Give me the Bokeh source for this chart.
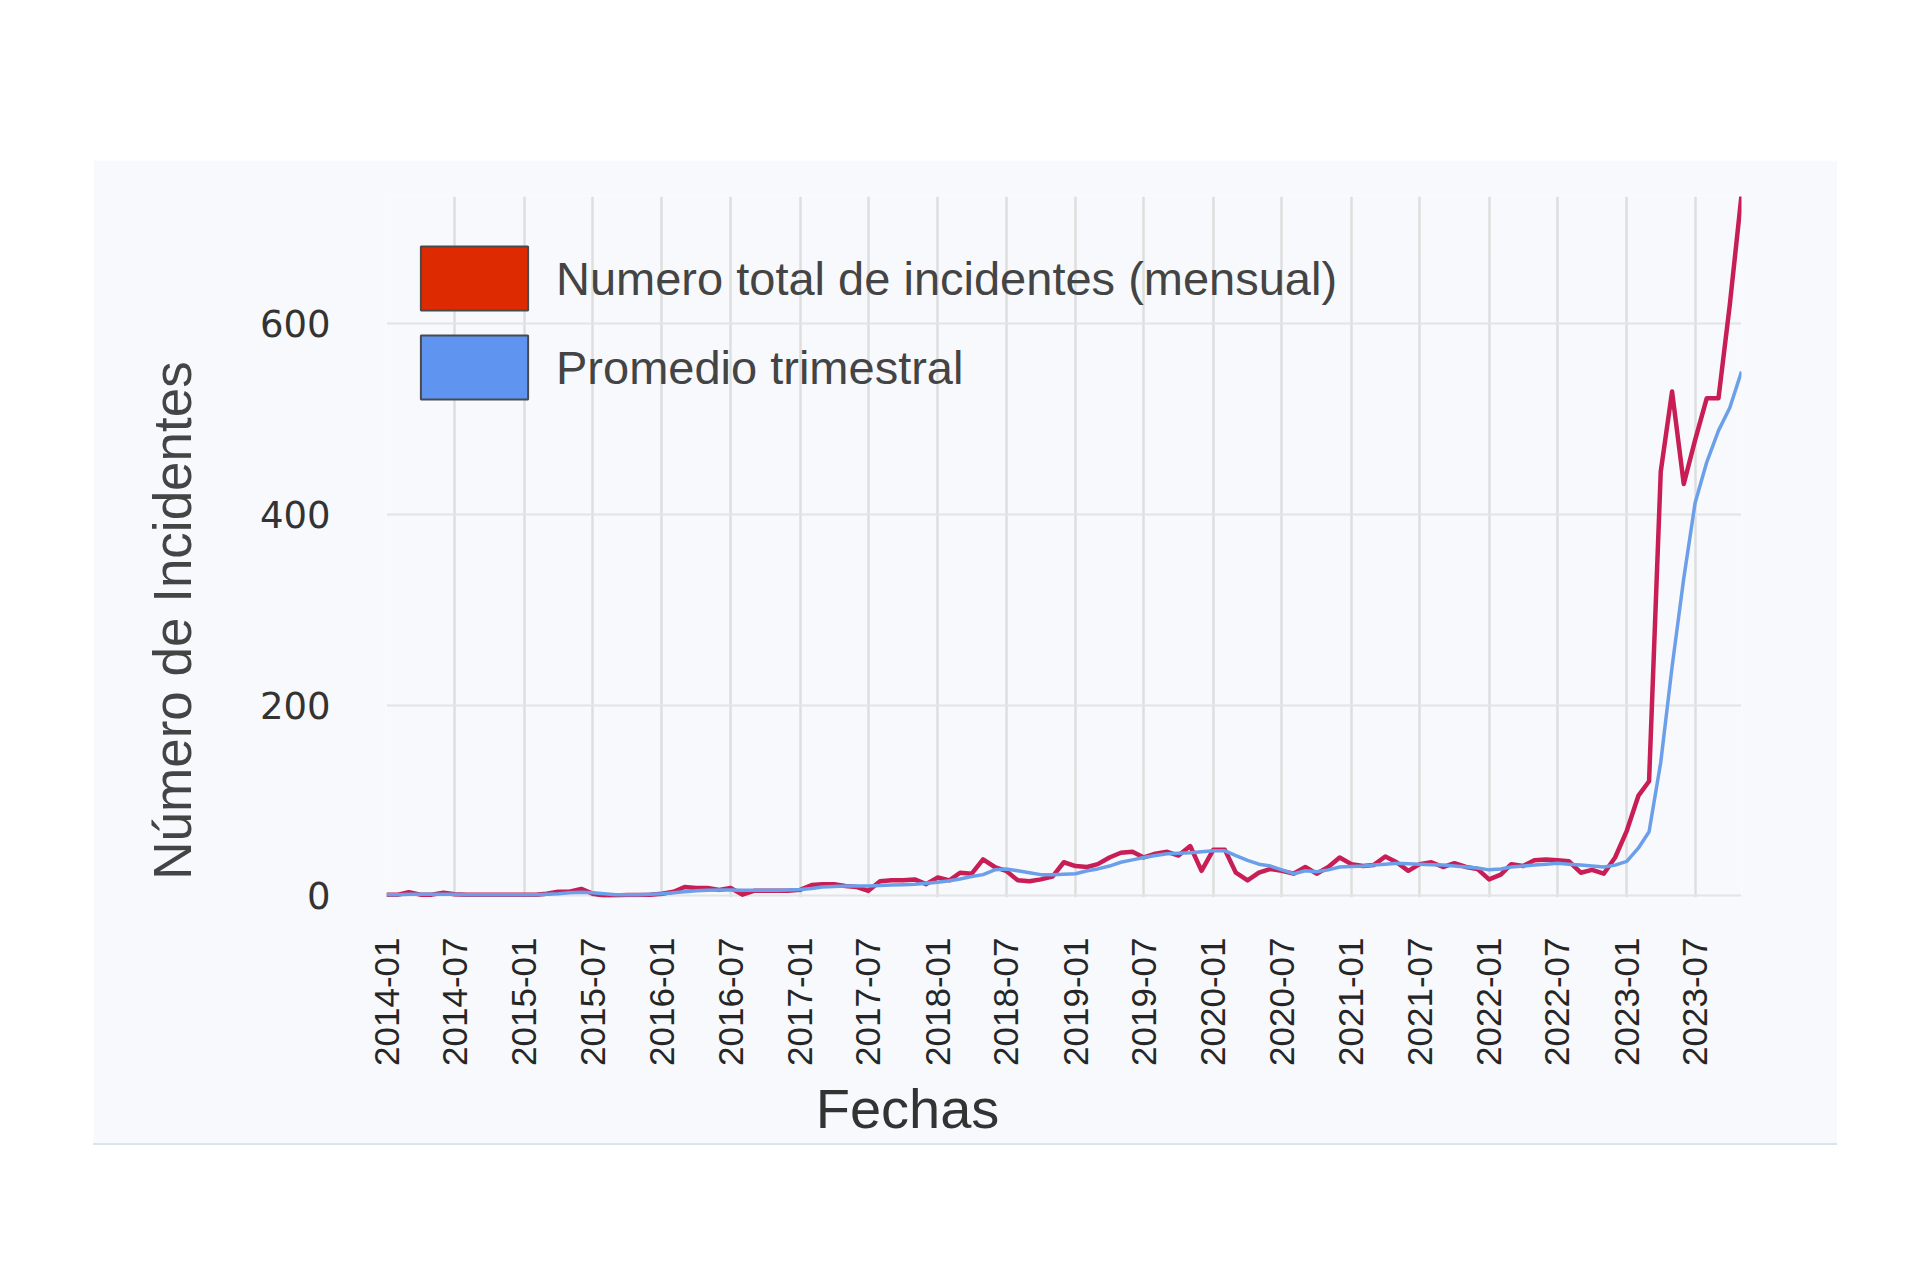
import math
import pandas as pd
from bokeh.plotting import figure
from bokeh.models import (Range1d, FixedTicker, DatetimeTickFormatter, Legend, LegendItem,
                          Spacer, ColumnDataSource, LinearAxis, CustomJSTickFormatter)
from bokeh.layouts import column, row
from bokeh.embed import file_html
from bokeh.resources import INLINE

# ---------------- data ----------------
start_month = "2014-01"
end_month = "2023-11"
tick_labels = ["2014-01", "2014-07", "2015-01", "2015-07", "2016-01", "2016-07",
               "2017-01", "2017-07", "2018-01", "2018-07", "2019-01", "2019-07",
               "2020-01", "2020-07", "2021-01", "2021-07", "2022-01", "2022-07",
               "2023-01", "2023-07"]
y_ticks = [0, 200, 400, 600]
series_names = ["Numero total de incidentes (mensual)", "Promedio trimestral"]
x_title = "Fechas"
y_title = "Número de Incidentes"

incidentes_mensual = [
    1, 1, 3.5, 1, 1, 3, 1.5, 1, 1, 1,
    1, 1, 1, 1, 2, 4, 4, 7, 2, 0,
    0, 0.5, 0.5, 1, 2, 4, 9, 8, 8, 6,
    8, 1, 5, 5, 5, 5, 6, 11, 12, 12,
    10, 9, 5, 15, 16, 16, 17, 12, 19, 16,
    24, 23, 38, 30, 26, 16, 15, 17, 20, 35,
    31, 30, 33, 40, 45, 46, 40, 44, 46, 42,
    52, 26, 48, 48, 24, 16, 24, 28, 26, 23,
    30, 23, 30, 40, 33, 31, 32, 41, 35, 26,
    33, 35, 30, 34, 30, 28, 17, 22, 33, 31,
    37, 38, 37, 36, 24, 27, 23, 40, 68, 105,
    120, 445, 529, 432, 478, 522, 522, 620, 735,
]
promedio_trimestral = [
    1, 1, 1.5, 1.5, 1.5, 1.5, 1.5, 1, 1, 1,
    1, 1, 1, 1, 1.5, 2, 3, 3.5, 3, 2,
    1, 1, 1, 1.5, 2, 3, 4, 5, 5.5, 6,
    6, 5.5, 5.5, 5.5, 5.5, 6, 6.5, 7.5, 9, 9.5,
    10, 10, 10, 10.5, 11, 11.5, 12, 13, 14, 15.5,
    17.5, 20, 22, 27, 28, 26, 24, 22, 22, 22.5,
    23, 26, 28, 31, 35, 37.5, 40, 42, 44, 44.5,
    45, 46, 47, 47, 42, 37, 33, 31, 27, 23,
    26, 25, 27, 30, 30.5, 31, 32, 33, 34, 33.5,
    33, 32.5, 32, 31, 30, 29, 27, 28, 30, 31,
    32, 33, 34, 33, 32, 31, 30, 32, 36, 50,
    67, 140, 240, 333, 412, 455, 488, 512, 550,
]

months = pd.date_range(start=start_month + "-01", end=end_month + "-01", freq="MS")
src = ColumnDataSource(dict(fecha=months, mensual=incidentes_mensual,
                            trimestral=promedio_trimestral))

CARD = "#f7f9fc"
FRAME_W, FRAME_H = 1355, 701

start_ms = months[0].value / 1e6
end_ms = months[-1].value / 1e6
tick_ms = [pd.Timestamp(t + "-01").value / 1e6 for t in tick_labels]

p = figure(width=1744, height=983, x_axis_type="datetime",
           output_backend="svg", toolbar_location=None,
           x_range=Range1d(start_ms, end_ms), y_range=Range1d(-2, 733.7),
           min_border_left=293, min_border_right=96, min_border_top=36,
           min_border_bottom=246,
           background_fill_color=CARD, border_fill_color=CARD,
           outline_line_color=None)

p.extra_x_ranges = {"xlab": Range1d(0, FRAME_W)}
p.extra_y_ranges = {"ylab": Range1d(0, FRAME_H)}

p.line("fecha", "mensual", source=src, line_color="#c81e55", line_width=4.5,
       line_join="round")
p.line("fecha", "trimestral", source=src, line_color="#6c9fe9", line_width=3.5,
       line_join="round")

fmt = "%Y-%m"
xa = p.xaxis[0]
xa.ticker = FixedTicker(ticks=tick_ms)
xa.formatter = DatetimeTickFormatter(microseconds=fmt, milliseconds=fmt, seconds=fmt,
                                     minsec=fmt, minutes=fmt, hourmin=fmt, hours=fmt,
                                     days=fmt, months=fmt, years=fmt)
xa.major_label_orientation = math.pi / 2
xa.major_label_text_font = "Liberation Sans"
xa.major_label_text_font_size = "35px"
xa.major_label_text_color = "#262626"
xa.major_label_standoff = 40
xa.major_tick_out = 0
xa.major_tick_in = 0
xa.axis_line_color = None
xa.major_tick_line_color = None
xa.minor_tick_line_color = None

# x title axis
xt = LinearAxis(x_range_name="xlab", ticker=FixedTicker(ticks=[521]),
                formatter=CustomJSTickFormatter(code="return %r;" % x_title))
xt.major_label_text_font = "Liberation Sans"
xt.major_label_text_font_size = "56px"
xt.major_label_text_color = "#333333"
xt.major_label_standoff = 8
xt.major_tick_out = 0
xt.major_tick_in = 0
xt.axis_line_color = None
xt.major_tick_line_color = None
xt.minor_tick_line_color = None
p.add_layout(xt, "below")

ya = p.yaxis[0]
ya.ticker = FixedTicker(ticks=y_ticks)
ya.major_label_text_font = "DejaVu Sans"
ya.major_label_text_font_size = "37px"
ya.major_label_text_color = "#333333"
ya.major_label_standoff = 56
ya.major_tick_out = 0
ya.major_tick_in = 0
ya.axis_line_color = None
ya.major_tick_line_color = None
ya.minor_tick_line_color = None

# y title axis
yt = LinearAxis(y_range_name="ylab", ticker=FixedTicker(ticks=[277]),
                formatter=CustomJSTickFormatter(code="return %r;" % y_title))
yt.major_label_orientation = "parallel"
yt.major_label_text_font = "Liberation Sans"
yt.major_label_text_font_size = "53px"
yt.major_label_text_color = "#444444"
yt.major_label_standoff = 55
yt.major_tick_out = 0
yt.major_tick_in = 0
yt.axis_line_color = None
yt.major_tick_line_color = None
yt.minor_tick_line_color = None
p.add_layout(yt, "left")

p.xgrid.grid_line_color = "#dedede"
p.xgrid.grid_line_width = 2.5
p.ygrid.grid_line_color = "#e4e4e4"
p.ygrid.grid_line_width = 2

# legend with box swatches
nan = float("nan")
r_red = p.quad(left=[nan], right=[nan], top=[nan], bottom=[nan],
               fill_color="#dd2a00", line_color="#4a4a4a", line_width=2)
r_blue = p.quad(left=[nan], right=[nan], top=[nan], bottom=[nan],
                fill_color="#5f95f0", line_color="#4a4a4a", line_width=2)
legend = Legend(items=[LegendItem(label=series_names[0], renderers=[r_red]),
                       LegendItem(label=series_names[1], renderers=[r_blue])],
                location=(21, 490), padding=0, margin=0, spacing=9,
                glyph_width=134, glyph_height=80, label_standoff=15,
                label_text_font="Liberation Sans", label_text_font_size="47px",
                label_text_color="#444444", border_line_color=None,
                background_fill_alpha=0)
p.add_layout(legend)

bottom_line = Spacer(width=1744, height=2, styles={"background-color": "#d4e6ee"})
layout = column(Spacer(width=1920, height=160),
                row(Spacer(width=93, height=983), column(p, bottom_line)))

open("out.html", "w").write(file_html(layout, INLINE))
